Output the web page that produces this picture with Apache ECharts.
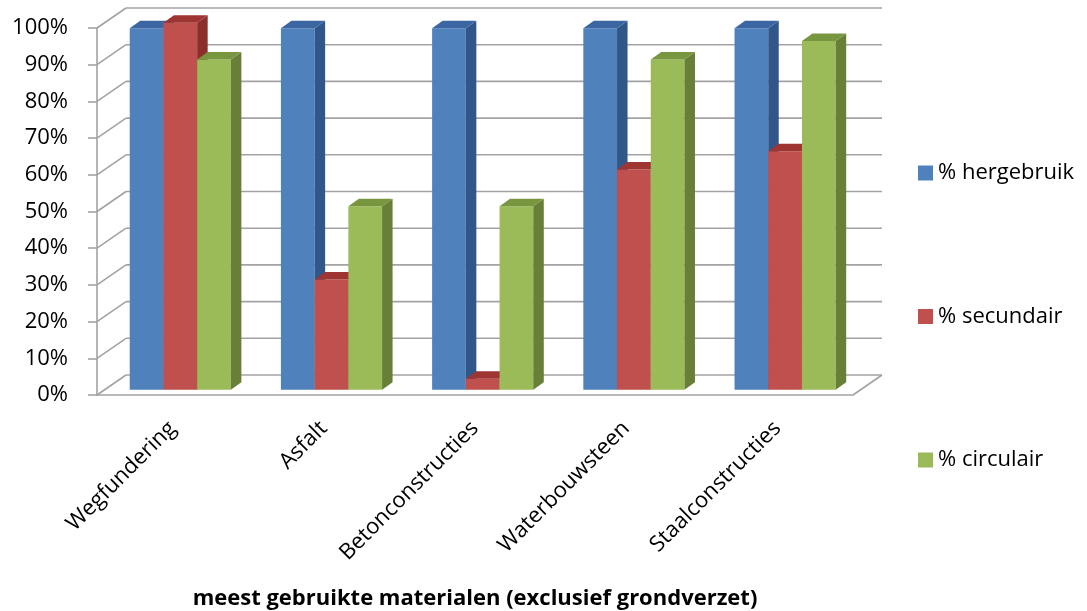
<!DOCTYPE html>
<html>
	<head>
		<meta charset="utf-8">
		<title></title>
		<script src="https://cdn.jsdelivr.net/npm/echarts@6/dist/echarts.min.js"></script>
		<style>
			html, body { margin: 0; padding: 0; background: #fff; }
			#main { width: 1087px; height: 611px; }
		</style>
	</head>
	<body>
		<div id="main"></div>
	</body>
	<script type="text/javascript">
		// data
		var categories = ['Wegfundering', 'Asfalt', 'Betonconstructies', 'Waterbouwsteen', 'Staalconstructies'];
		var hergebruik = [98.5, 98.5, 98.5, 98.5, 98.5];
		var secundair = [100, 30, 3, 60, 65];
		var circulair = [90, 50, 50, 90, 95];
		var yTicks = [0, 10, 20, 30, 40, 50, 60, 70, 80, 90, 100];
		var seriesNames = ['% hergebruik', '% secundair', '% circulair'];

		// colours: front, side, top
		var palette = [
			['#4F81BD', '#30568A', '#3B66A1'],
			['#C0504D', '#8C2E2C', '#9E3532'],
			['#9BBB59', '#687F38', '#789540']
		];

		var WALL_DX = 29, WALL_DY = -20;   // back wall offset
		var BAR_FX = 7.7, BAR_FY = -5.3;   // bar front face offset
		var BAR_DX = 10.5, BAR_DY = -7.5;  // bar depth
		var GRAY = '#a3a3a3';
		var FONT = 'Open Sans';

		var myChart = echarts.init(document.getElementById('main'));

		function frameItem(params, api) {
			var v = api.value(1);
			var band = api.size([1, 0])[0];
			var p = api.coord([0, v]);
			var left = p[0] - band / 2;
			var right = api.coord([categories.length - 1, v])[0] + band / 2;
			var y = p[1];
			var st = { stroke: GRAY, lineWidth: 1.6 };
			var kids = [
				{ type: 'line', shape: { x1: left, y1: y, x2: left + WALL_DX, y2: y + WALL_DY }, style: st },
				{ type: 'line', shape: { x1: left + WALL_DX, y1: y + WALL_DY, x2: right + WALL_DX, y2: y + WALL_DY }, style: st }
			];
			if (v === 0) {
				kids.push({ type: 'line', shape: { x1: right, y1: y, x2: right + WALL_DX, y2: y + WALL_DY }, style: st });
			}
			return { type: 'group', children: kids, silent: true };
		}

		function barItem(idx) {
			return function (params, api) {
				var ci = api.value(0), v = api.value(1);
				var band = api.size([1, 0])[0];
				var bw = band * 0.223;
				var base = api.coord([ci, 0]);
				var top = api.coord([ci, v]);
				var x0 = base[0] - 1.5 * bw + idx * bw + BAR_FX;
				var x1 = x0 + bw;
				var yb = base[1] + BAR_FY;
				var yt = top[1] + BAR_FY;
				var c = palette[idx];
				return {
					type: 'group',
					children: [
						{ type: 'rect', shape: { x: x0, y: yt, width: bw, height: yb - yt }, style: { fill: c[0] } },
						{ type: 'polygon', shape: { points: [[x1, yt], [x1 + BAR_DX, yt + BAR_DY], [x1 + BAR_DX, yb + BAR_DY], [x1, yb]] }, style: { fill: c[1] } },
						{ type: 'polygon', shape: { points: [[x0, yt], [x0 + BAR_DX, yt + BAR_DY], [x1 + BAR_DX, yt + BAR_DY], [x1, yt]] }, style: { fill: c[2] } }
					]
				};
			};
		}

		function toData(arr) {
			return arr.map(function (v, i) { return [i, v]; });
		}

		var values = [hergebruik, secundair, circulair];
		var series = [{
			type: 'custom',
			name: 'frame',
			renderItem: frameItem,
			data: yTicks.map(function (v) { return [0, v]; }),
			encode: { x: 0, y: 1 },
			silent: true,
			z: 1
		}];
		values.forEach(function (arr, i) {
			series.push({
				type: 'custom',
				name: seriesNames[i],
				renderItem: barItem(i),
				data: toData(arr),
				encode: { x: 0, y: 1 },
				itemStyle: { color: palette[i][0] },
				z: 2 + i
			});
		});

		myChart.setOption({
			animation: false,
			textStyle: { fontFamily: FONT },
			grid: { left: 97, right: 234, top: 28, bottom: 216, outerBoundsMode: 'none', containLabel: false },
			legend: {
				orient: 'vertical',
				left: 913,
				top: 157,
				data: seriesNames,
				icon: 'rect',
				itemWidth: 15,
				itemHeight: 15,
				itemGap: 121.5,
				textStyle: { fontFamily: FONT, fontSize: 22, color: '#000', lineHeight: 15 }
			},
			xAxis: {
				type: 'category',
				data: categories,
				name: 'meest gebruikte materialen (exclusief grondverzet)',
				nameLocation: 'middle',
				nameGap: 193,
				nameTextStyle: { fontFamily: FONT, fontSize: 22, fontWeight: 'bold', color: '#000' },
				axisLine: { lineStyle: { color: GRAY, width: 1.6 } },
				axisTick: { length: 8, lineStyle: { color: GRAY, width: 1.6 } },
				axisLabel: { rotate: 45, margin: 30, fontSize: 22, color: '#000', interval: 0 },
				splitLine: { show: false }
			},
			yAxis: {
				type: 'value',
				min: 0,
				max: 100,
				interval: 10,
				axisLine: { show: true, lineStyle: { color: GRAY, width: 1.6 } },
				axisTick: { show: true, length: 9, lineStyle: { color: GRAY, width: 1.6 } },
				axisLabel: { formatter: '{value}%', margin: 29, fontSize: 22, color: '#000' },
				splitLine: { show: false }
			},
			series: series
		});
	</script>
</html>
